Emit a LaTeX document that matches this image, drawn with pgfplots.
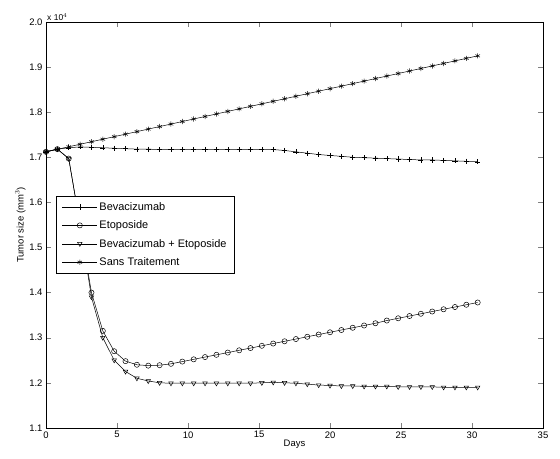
\documentclass[border=0pt]{standalone}
\usepackage{pgfplots}
\pgfplotsset{compat=1.18}
\usepackage{fontspec}
\setmainfont{Liberation Sans}
\begin{document}
\begin{tikzpicture}
\begin{axis}[
  scale only axis, width=497bp, height=406bp,
  xmin=0, xmax=35, ymin=1.1, ymax=2,
  xtick={0,5,...,35}, ytick={1.1,1.2,...,2.0},
  yticklabel style={/pgf/number format/.cd,fixed,fixed zerofill,precision=1},
  /pgf/number format/assume math mode=true,
  tick align=inside, tick pos=both, major tick length=5pt,
  ticklabel style={font=\fontsize{9.5}{11}\selectfont},
  label style={font=\fontsize{9.5}{11}\selectfont},
  xlabel={Days}, ylabel={Tumor size (mm$^3$)},
  xlabel style={yshift=5pt}, ylabel style={yshift=-3pt},
  legend style={at={(0.02,0.571)}, anchor=north west, font=\fontsize{11}{12}\selectfont, row sep=5pt, inner xsep=6pt, inner ysep=4pt,
    legend image code/.code={\draw[#1,mark=none] (0cm,0cm) -- (1.23cm,0cm); \draw[#1,only marks] plot coordinates {(0.615cm,0cm)};}},
  legend cell align=left,
  every axis plot/.append style={black, line width=0.5pt, mark size=2.6pt, mark options={fill=white}},
  clip=false,
]
\addplot[mark=+] table[x expr=\coordindex*0.8, y index=0] {
1.712
1.718
1.721
1.723
1.722
1.721
1.720
1.719
1.718
1.718
1.717
1.717
1.717
1.717
1.717
1.717
1.717
1.717
1.717
1.717
1.717
1.715
1.712
1.709
1.706
1.704
1.702
1.700
1.699
1.698
1.697
1.696
1.695
1.694
1.694
1.693
1.692
1.691
1.690
};
\addlegendentry{Bevacizumab}
\addplot[mark=o] table[x expr=\coordindex*0.8, y index=0] {
1.712
1.718
1.697
1.55
1.40
1.315
1.27
1.248
1.240
1.238
1.239
1.242
1.247
1.252
1.257
1.262
1.267
1.272
1.277
1.282
1.287
1.292
1.297
1.302
1.307
1.312
1.317
1.322
1.327
1.332
1.338
1.343
1.348
1.353
1.358
1.363
1.368
1.373
1.378
};
\addlegendentry{Etoposide}
\addplot[mark=triangle, mark options={rotate=180, fill=white}] table[x expr=\coordindex*0.8, y index=0] {
1.712
1.718
1.697
1.55
1.39
1.30
1.25
1.225
1.210
1.204
1.200
1.199
1.199
1.199
1.199
1.199
1.199
1.199
1.199
1.200
1.201
1.200
1.199
1.197
1.195
1.194
1.193
1.193
1.192
1.192
1.192
1.191
1.191
1.191
1.191
1.190
1.190
1.190
1.190
};
\addlegendentry{Bevacizumab + Etoposide}
\addplot[mark=asterisk] table[x expr=\coordindex*0.8, y index=0] {
1.712
1.7176
1.7232
1.7288
1.7344
1.740
1.7456
1.7512
1.7568
1.7624
1.768
1.7736
1.7792
1.7848
1.7904
1.796
1.8016
1.8072
1.8128
1.8184
1.824
1.8296
1.8352
1.8408
1.8464
1.852
1.8576
1.8632
1.8688
1.8744
1.880
1.8856
1.8912
1.8968
1.9024
1.908
1.9136
1.9192
1.9248
};
\addlegendentry{Sans Traitement}
\node[anchor=south west, font=\fontsize{8.5}{9}\selectfont, inner sep=1pt] at (rel axis cs:0,1) {x 10$^4$};
\useasboundingbox (rel axis cs:-0.0926,-0.0764) rectangle (rel axis cs:1.0342,1.054);
\end{axis}
\end{tikzpicture}
\end{document}
